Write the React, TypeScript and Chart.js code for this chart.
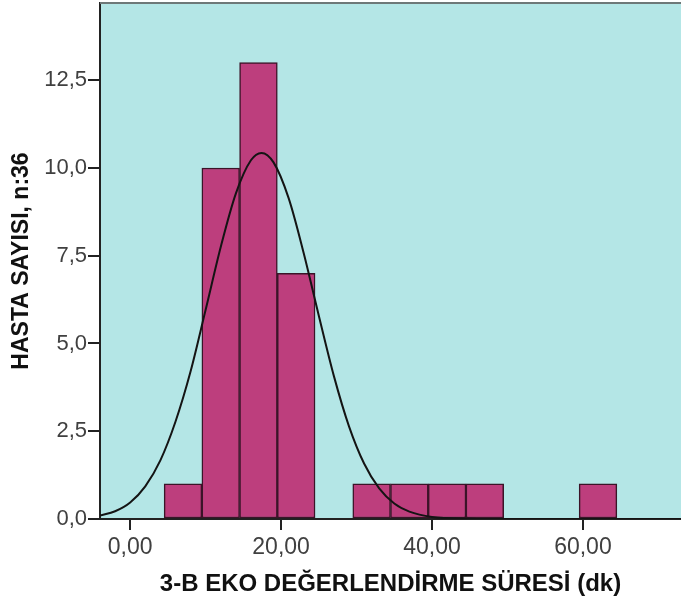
import React, { useEffect, useRef } from "react";
import { Chart, registerables } from "chart.js";

Chart.register(...registerables);

// Histogram bins (bin centres, width 5) and patient counts
const binCenters = [7, 12, 17, 22, 27, 32, 37, 42, 47, 52, 57, 62];
const binCounts = [1, 10, 13, 7, 0, 1, 1, 1, 1, 0, 0, 1];

// Normal curve
const curveX = [-4, -2, 0, 2, 4, 6, 8, 10, 12, 14, 16, 17.4, 19, 21, 23, 25, 27, 29, 31, 33, 35, 37, 40, 45, 50, 60, 73];
const curveY = [0.1, 0.22, 0.47, 0.93, 1.67, 2.77, 4.2, 5.96, 7.75, 9.27, 10.22, 10.43, 10.16, 9.14, 7.57, 5.79, 4.07, 2.64, 1.58, 0.87, 0.44, 0.21, 0.06, 0.01, 0, 0, 0];

const xTicks = [0, 20, 40, 60];
const yTicks = [0, 2.5, 5, 7.5, 10, 12.5];

const xTitle = "3-B EKO DEĞERLENDİRME SÜRESİ (dk)";
const yTitle = "HASTA SAYISI, n:36";

const FONT = "'Liberation Sans', Arial, sans-serif";

const plotBg = {
  id: "plotBg",
  beforeDraw(chart: any) {
    const { ctx, chartArea } = chart;
    ctx.save();
    ctx.fillStyle = "#b4e6e6";
    ctx.fillRect(chartArea.left, chartArea.top, chartArea.right - chartArea.left, chartArea.bottom - chartArea.top);
    ctx.restore();
  },
  afterDraw(chart: any) {
    const { ctx, chartArea } = chart;
    ctx.save();
    ctx.strokeStyle = "#6e7878";
    ctx.lineWidth = 2;
    ctx.beginPath();
    ctx.moveTo(chartArea.left, chartArea.top);
    ctx.lineTo(chartArea.right, chartArea.top);
    ctx.stroke();
    ctx.restore();
  },
};

export default function App() {
  const ref = useRef<HTMLCanvasElement>(null);
  useEffect(() => {
    document.body.style.margin = "0";
    const chart = new Chart(ref.current!, {
      type: "bar",
      data: {
        datasets: [
          {
            type: "line",
            data: curveX.map((x, i) => ({ x, y: curveY[i] })),
            borderColor: "#141414",
            borderWidth: 2,
            pointRadius: 0,
            cubicInterpolationMode: "monotone",
            fill: false,
            order: 0,
          } as any,
          {
            type: "bar",
            data: binCenters.map((x, i) => ({ x, y: binCounts[i] })),
            backgroundColor: "#bd3e7d",
            borderColor: "#3b1428",
            borderWidth: 1.5,
            borderSkipped: false,
            barPercentage: 1,
            categoryPercentage: 1,
            order: 1,
          } as any,
        ],
      },
      options: {
        responsive: false,
        animation: false,
        layout: { padding: { top: 3, right: 0, left: 0, bottom: 0 } },
        plugins: { legend: { display: false }, tooltip: { enabled: false } },
        scales: {
          x: {
            type: "linear",
            min: -4,
            max: 73,
            offset: false,
            afterBuildTicks: (s: any) => {
              s.ticks = xTicks.map((v) => ({ value: v }));
            },
            afterFit: (s: any) => {
              s.height = 85;
              s.paddingLeft = 0;
              s.paddingRight = 0;
            },
            ticks: {
              color: "#404040",
              font: { family: FONT, size: 23 },
              padding: 4,
              maxRotation: 0,
              callback: (v: any) => Number(v).toFixed(2).replace(".", ","),
            },
            grid: { display: true, offset: false, drawOnChartArea: false, drawTicks: true, tickLength: 11, color: "#222", lineWidth: 2 },
            border: { display: true, color: "#222", width: 2 },
            title: {
              display: true,
              text: xTitle,
              color: "#111",
              font: { family: FONT, size: 24, weight: "bold" },
              padding: { top: 0, bottom: 5 },
            },
          },
          y: {
            type: "linear",
            min: 0,
            max: 14.7,
            afterBuildTicks: (s: any) => {
              s.ticks = yTicks.map((v) => ({ value: v }));
            },
            afterFit: (s: any) => {
              s.width = 100;
              s.paddingTop = 0;
              s.paddingBottom = 0;
            },
            ticks: {
              color: "#404040",
              font: { family: FONT, size: 22 },
              padding: 1,
              callback: (v: any) => Number(v).toFixed(1).replace(".", ","),
            },
            grid: { display: true, drawOnChartArea: false, drawTicks: true, tickLength: 12, color: "#222", lineWidth: 2 },
            border: { display: true, color: "#222", width: 2 },
            title: {
              display: true,
              text: yTitle,
              color: "#111",
              font: { family: FONT, size: 23, weight: "bold" },
              padding: { top: 8, bottom: 0 },
            },
          },
        },
      },
      plugins: [plotBg],
    });
    return () => chart.destroy();
  }, []);
  return (
    <div style={{ width: 681, height: 604 }}>
      <canvas ref={ref} width={681} height={604} style={{ display: "block" }} />
    </div>
  );
}
